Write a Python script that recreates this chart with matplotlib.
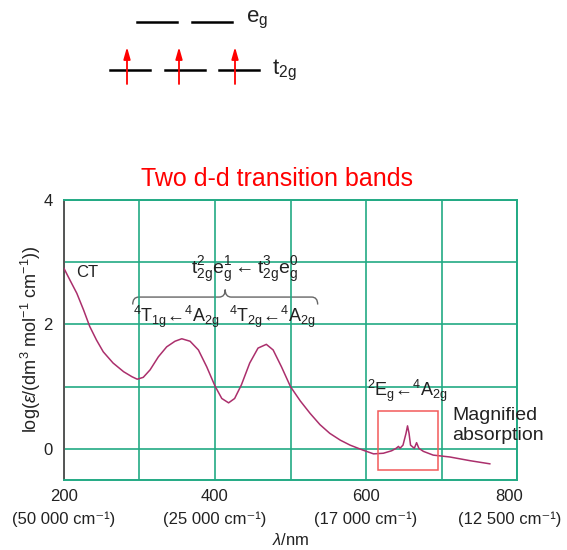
import numpy as np
import matplotlib.pyplot as plt
from matplotlib.path import Path
from matplotlib.patches import PathPatch, Rectangle

plt.rcParams['font.family'] = ['Liberation Sans', 'DejaVu Sans']
plt.rcParams['mathtext.fontset'] = 'custom'
plt.rcParams['mathtext.rm'] = 'Liberation Sans'
plt.rcParams['mathtext.it'] = 'Liberation Sans:italic'

# spectrum (wavelength / nm, log epsilon)
wavelength = [200, 208, 217, 226, 234, 243, 252, 265, 279, 290, 297, 305, 314,
              325, 336, 347, 356, 367, 378, 389, 400, 409, 418, 426, 435, 446,
              457, 468, 477, 488, 500, 513, 526, 539, 552, 566, 579, 596, 610,
              623, 634, 640, 643, 645, 649, 653, 655, 657, 659, 664, 667, 670,
              676, 689, 711, 738, 764]
log_eps = [2.90, 2.71, 2.50, 2.23, 1.97, 1.75, 1.56, 1.38, 1.24, 1.16, 1.12,
           1.15, 1.27, 1.48, 1.64, 1.73, 1.77, 1.73, 1.59, 1.32, 1.01, 0.81,
           0.74, 0.81, 1.03, 1.38, 1.62, 1.68, 1.59, 1.32, 1.00, 0.77, 0.57,
           0.39, 0.25, 0.14, 0.06, -0.02, -0.08, -0.07, -0.03, 0.01, 0.04,
           0.01, 0.06, 0.25, 0.37, 0.25, 0.06, 0.01, 0.10, 0.01, -0.04, -0.10,
           -0.13, -0.19, -0.24]

x_ticks = [200, 300, 400, 500, 600, 700, 800]
x_label_pos = [200, 400, 600, 790]
x_labels = ['200\n(50 000 cm\u207b\u00b9)', '400\n(25 000 cm\u207b\u00b9)',
            '600\n(17 000 cm\u207b\u00b9)', '800\n(12 500 cm\u207b\u00b9)']
y_ticks = [0, 1, 2, 3, 4]
y_labels = ['0', '', '2', '', '4']

grid_col = '#22aa84'
curve_col = '#ab2f6c'
txt_col = '#222222'

fig = plt.figure(figsize=(5.67, 5.5), dpi=100)

# --- orbital diagram at the top (figure pixel coords) ---
top = fig.add_axes([0, 0, 1, 1])
top.set_xlim(0, 567)
top.set_ylim(550, 0)
top.axis('off')
for x0, x1 in [(137, 177), (192, 232)]:
    top.plot([x0, x1], [22, 22], color='black', lw=1.8)
for x0, x1 in [(110, 150), (165, 205), (219, 259)]:
    top.plot([x0, x1], [70, 70], color='black', lw=1.8)
for xa in [127, 179, 235]:
    top.annotate('', xy=(xa, 47), xytext=(xa, 84),
                 arrowprops=dict(arrowstyle='-|>,head_length=0.7,head_width=0.2',
                                 color='red', lw=1.3, shrinkA=0, shrinkB=0))
top.text(246, 20, r'e$_\mathregular{g}$', fontsize=16, ha='left', va='center', color=txt_col)
top.text(272, 70, r't$_\mathregular{2g}$', fontsize=16, ha='left', va='center', color=txt_col)
top.text(277, 179, 'Two d-d transition bands', fontsize=18, color='red',
         ha='center', va='center')

# --- spectrum ---
ax = fig.add_axes([64 / 567, 70 / 550, 453 / 567, 280 / 550])
ax.plot(wavelength, log_eps, color=curve_col, lw=1.1, zorder=3)
ax.set_xlim(200, 800)
ax.set_ylim(-0.5, 4)
ax.set_xticks(x_ticks)
ax.set_xticklabels([])
ax.set_yticks(y_ticks)
ax.set_yticklabels(y_labels, fontsize=12, color=txt_col)
ax.tick_params(length=0)
ax.tick_params(axis='y', pad=8)
ax.grid(True, color=grid_col, lw=1.2)
for side in ['top', 'right', 'bottom']:
    ax.spines[side].set_color(grid_col)
    ax.spines[side].set_linewidth(1.4)
ax.spines['left'].set_color('#555555')
ax.spines['left'].set_linewidth(1.4)

# x tick labels placed by hand so the last one stays inside the figure
xlab_tr = ax.get_xaxis_transform()
for xp, lab in zip(x_label_pos, x_labels):
    ax.text(xp, -0.032, lab, transform=xlab_tr, ha='center', va='top',
            fontsize=12, color=txt_col, linespacing=1.6)

ax.text(-0.072, 0.504, r'log($\varepsilon$/(dm$^\mathregular{3}$ mol$^\mathregular{-1}$ cm$^\mathregular{-1}$))',
        transform=ax.transAxes, rotation=90, ha='center', va='center',
        fontsize=13, color=txt_col)
ax.text(0.5, -0.215, r'$\lambda$/nm', transform=ax.transAxes, ha='center',
        va='center', fontsize=12, color=txt_col)

ax.text(216, 2.83, 'CT', fontsize=12, ha='left', va='center', color=txt_col)
ax.text(440, 2.88,
        r't$_\mathregular{2g}^\mathregular{2}$e$_\mathregular{g}^\mathregular{1}$$\leftarrow$'
        r't$_\mathregular{2g}^\mathregular{3}$e$_\mathregular{g}^\mathregular{0}$',
        fontsize=14, ha='center', va='center', color=txt_col)

# curly brace under the configuration label
bx0, bx1, by, bd, br = 291, 536, 2.44, 0.12, 8
bm = (bx0 + bx1) / 2
verts = [(bx0, by - bd), (bx0, by), (bx0 + br, by), (bm - br, by), (bm, by),
         (bm, by + bd), (bm, by), (bm + br, by), (bx1 - br, by), (bx1, by),
         (bx1, by - bd)]
codes = [Path.MOVETO, Path.CURVE3, Path.CURVE3, Path.LINETO, Path.CURVE3,
         Path.CURVE3, Path.CURVE3, Path.CURVE3, Path.LINETO, Path.CURVE3,
         Path.CURVE3]
ax.add_patch(PathPatch(Path(verts, codes), fill=False, edgecolor='#666666', lw=1))

ax.text(291, 2.12, r'$^\mathregular{4}$T$_\mathregular{1g}$←$^\mathregular{4}$A$_\mathregular{2g}$',
        fontsize=13, ha='left', va='center', color=txt_col)
ax.text(418, 2.12, r'$^\mathregular{4}$T$_\mathregular{2g}$←$^\mathregular{4}$A$_\mathregular{2g}$',
        fontsize=13, ha='left', va='center', color=txt_col)
ax.text(601, 0.93, r'$^\mathregular{2}$E$_\mathregular{g}$←$^\mathregular{4}$A$_\mathregular{2g}$',
        fontsize=13, ha='left', va='center', color=txt_col)

ax.add_patch(Rectangle((616, -0.34), 79, 0.95, fill=False, edgecolor='#f25a5a',
                       lw=1.1, zorder=4))
ax.text(714, 0.38, 'Magnified\nabsorption', fontsize=14, ha='left', va='center',
        color=txt_col, zorder=5, clip_on=False)

fig.savefig('out.png', dpi=100)
